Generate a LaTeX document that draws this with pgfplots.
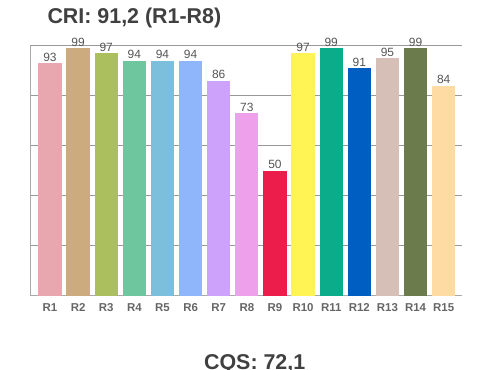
\documentclass[border=0pt]{standalone}
\usepackage{pgfplots}
\pgfplotsset{compat=1.18}
\usepackage{fontspec}
\setmainfont{Liberation Sans}
\definecolor{c1}{HTML}{E8A6AE}
\definecolor{c2}{HTML}{CCAB7F}
\definecolor{c3}{HTML}{ABBF5F}
\definecolor{c4}{HTML}{6EC69F}
\definecolor{c5}{HTML}{7CBFDD}
\definecolor{c6}{HTML}{8FB5FB}
\definecolor{c7}{HTML}{CCA2FB}
\definecolor{c8}{HTML}{EEA1EA}
\definecolor{c9}{HTML}{EC1C4B}
\definecolor{c10}{HTML}{FFF453}
\definecolor{c11}{HTML}{0BAC8A}
\definecolor{c12}{HTML}{005EC2}
\definecolor{c13}{HTML}{D5BFB6}
\definecolor{c14}{HTML}{6B7B4B}
\definecolor{c15}{HTML}{FFDBA4}
\definecolor{titlegray}{HTML}{404040}
\definecolor{tickgray}{HTML}{666666}
\definecolor{valgray}{HTML}{555555}
\definecolor{gridgray}{HTML}{999999}
\definecolor{axgray}{HTML}{AAAAAA}
\begin{document}
\begin{tikzpicture}
\path[use as bounding box] (0,0) rectangle (500bp,370bp);
\begin{axis}[
  at={(30bp,74.3bp)}, anchor=south west,
  scale only axis, width=431.7bp, height=250bp,
  ybar, bar width=23.3bp, bar shift=0pt,
  xmin=-0.71, xmax=14.64, ymin=0, ymax=100,
  axis x line*=bottom, axis y line*=left,
  axis line style={axgray, line width=1bp, -},
  xtick={0,...,14},
  xticklabels={R1,R2,R3,R4,R5,R6,R7,R8,R9,R10,R11,R12,R13,R14,R15},
  xtick style={draw=none},
  xticklabel style={font=\fontsize{11.5}{12}\selectfont\bfseries, text=tickgray, inner sep=0pt, yshift=-3.3bp},
  ytick={20,40,60,80,100}, yticklabels={},
  ytick style={draw=none},
  ymajorgrids, grid style={gridgray, line width=0.9bp},
  /pgf/number format/assume math mode=true,
  nodes near coords,
  every node near coord/.append style={font=\fontsize{12}{12}\selectfont, text=valgray, inner sep=0pt, yshift=1.7bp, anchor=south},
  clip=false,
]
\addplot[fill=c1, draw=none] coordinates {(0,93)};
\addplot[fill=c2, draw=none] coordinates {(1,99)};
\addplot[fill=c3, draw=none] coordinates {(2,97)};
\addplot[fill=c4, draw=none] coordinates {(3,94)};
\addplot[fill=c5, draw=none] coordinates {(4,94)};
\addplot[fill=c6, draw=none] coordinates {(5,94)};
\addplot[fill=c7, draw=none] coordinates {(6,86)};
\addplot[fill=c8, draw=none] coordinates {(7,73)};
\addplot[fill=c9, draw=none] coordinates {(8,50)};
\addplot[fill=c10, draw=none] coordinates {(9,97)};
\addplot[fill=c11, draw=none] coordinates {(10,99)};
\addplot[fill=c12, draw=none] coordinates {(11,91)};
\addplot[fill=c13, draw=none] coordinates {(12,95)};
\addplot[fill=c14, draw=none] coordinates {(13,99)};
\addplot[fill=c15, draw=none] coordinates {(14,84)};
\end{axis}
\node[anchor=base west, inner sep=0pt, text=titlegray, font=\fontsize{21.5}{22}\selectfont\bfseries] at (47.3bp,346.7bp) {CRI: 91,2 (R1-R8)};
\node[anchor=base, inner sep=0pt, text=titlegray, font=\fontsize{21.5}{22}\selectfont\bfseries] at (254.7bp,0.5bp) {CQS: 72,1};
\end{tikzpicture}
\end{document}
